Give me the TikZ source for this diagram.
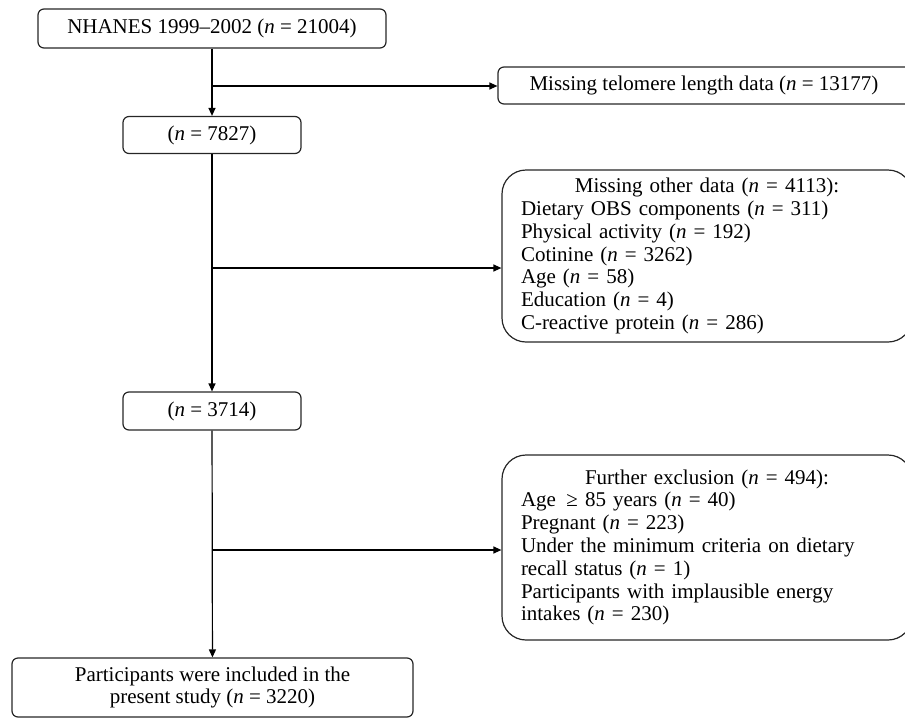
\documentclass[tikz,border=0pt]{standalone}
\usepackage{fontspec}
\setmainfont{Liberation Serif}
\usetikzlibrary{arrows.meta}
\newcommand{\nn}{\textit{n}}
\begin{document}
\begin{tikzpicture}[x=1pt,y=-1pt,
  box/.style={draw=black!85, line width=1.2pt, rounded corners=6pt, inner sep=0pt, align=center,
    font=\fontsize{21}{22.6}\selectfont},
  bigbox/.style={draw=black!85, line width=1.2pt, rounded corners=24pt, inner xsep=19pt, inner ysep=0pt,
    text width=372pt, align=left, font=\fontsize{21}{22.8}\selectfont},
  conn/.style={line width=1.2pt, -{Triangle[length=8pt,width=7pt]}}]
\useasboundingbox (0,0) rectangle (905,718);

\node[box, minimum width=348pt, minimum height=39pt] (n1) at (212,28.5) {NHANES 1999–2002 (\nn{} = 21004)};
\node[box, minimum width=420pt, minimum height=37pt] (tel) at (708,85.5) {Missing telomere length data (\nn{} = 13177)\hspace*{8pt}};
\node[box, minimum width=178pt, minimum height=37pt] (n2) at (212,135) {(\nn{} = 7827)};
\node[bigbox, minimum height=172pt] (other) at (707,256) {%
\makebox[372pt][c]{Missing other data (\nn{} = 4113):}\\
Dietary OBS components (\nn{} = 311)\\
Physical activity (\nn{} = 192)\\
Cotinine (\nn{} = 3262)\\
Age (\nn{} = 58)\\
Education (\nn{} = 4)\\
C-reactive protein (\nn{} = 286)};
\node[box, minimum width=178pt, minimum height=38pt] (n3) at (212,411) {(\nn{} = 3714)};
\node[bigbox, minimum height=185pt] (excl) at (707,547.5) {%
\makebox[372pt][c]{Further exclusion (\nn{} = 494):}\\
Age\ \,≥ 85 years (\nn{} = 40)\\
Pregnant (\nn{} = 223)\\
Under the minimum criteria on dietary\\
recall status (\nn{} = 1)\\
Participants with implausible energy\\
intakes (\nn{} = 230)};
\node[box, minimum width=401pt, minimum height=59pt] (fin) at (212.5,687.5) {Participants were included in the\\present study (\nn{} = 3220)};

\coordinate (b1) at (212,86);
\coordinate (b2) at (212,268);
\coordinate (b3) at (212,550);

\draw[conn] (n1) -- (n2);
\draw[conn] (b1) -- (b1 -| tel.west);
\draw[conn] (n2) -- (n3);
\draw[conn] (b2) -- (b2 -| other.west);
\draw[conn] (n3) -- (fin);
\draw[conn] (b3) -- (b3 -| excl.west);
\end{tikzpicture}
\end{document}
